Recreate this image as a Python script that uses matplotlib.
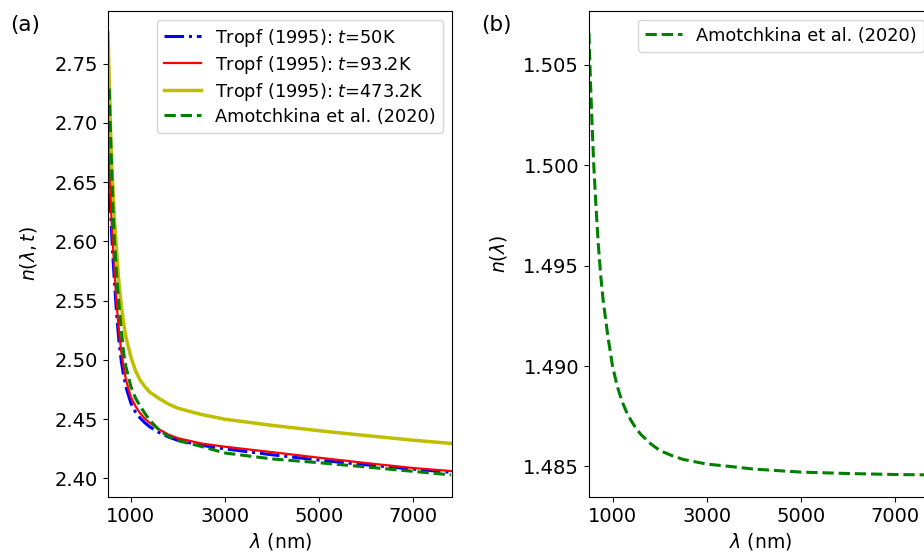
import numpy as np
from matplotlib import pyplot as plt

# Tropf (1995) model curves
lam_tropf = [518, 540, 560, 580, 600, 625, 650, 700, 750, 800, 850, 900, 1000, 1100,
             1200, 1300, 1400, 1600, 1800, 2000, 2500, 3000, 4000, 5000, 6000, 7000, 7822]
n_50K = [2.695, 2.662, 2.638, 2.620, 2.603, 2.585, 2.569, 2.539, 2.516, 2.499, 2.487,
         2.477, 2.464, 2.456, 2.451, 2.4470, 2.4437, 2.4388, 2.4350, 2.4322, 2.4280,
         2.4250, 2.4200, 2.4155, 2.4115, 2.4079, 2.4051]
n_93K = [2.705, 2.672, 2.648, 2.630, 2.613, 2.595, 2.579, 2.548, 2.524, 2.507, 2.494,
         2.483, 2.469, 2.461, 2.455, 2.4505, 2.4470, 2.4415, 2.4370, 2.4340, 2.4295,
         2.4268, 2.4222, 2.4175, 2.4130, 2.4088, 2.4062]
n_473K = [2.776, 2.742, 2.712, 2.682, 2.662, 2.643, 2.622, 2.592, 2.565, 2.546, 2.531,
          2.519, 2.503, 2.491, 2.483, 2.4775, 2.4730, 2.4675, 2.4628, 2.4593, 2.4540,
          2.4500, 2.4448, 2.4403, 2.4362, 2.4323, 2.4295]

# Amotchkina et al. (2020), panel (a)
lam_amo_a = [545, 560, 580, 600, 625, 650, 700, 750, 800, 850, 900, 1000, 1100, 1200,
             1300, 1400, 1600, 1800, 2000, 2500, 3000, 4000, 5000, 6000, 7000, 7800]
n_amo_a = [2.729, 2.705, 2.680, 2.655, 2.627, 2.603, 2.572, 2.547, 2.525, 2.506, 2.494,
           2.478, 2.468, 2.461, 2.4550, 2.4493, 2.4410, 2.4355, 2.4320, 2.4270, 2.4215,
           2.4165, 2.4133, 2.4097, 2.4060, 2.4030]

# Amotchkina et al. (2020), panel (b)
lam_amo_b = [500, 530, 560, 600, 650, 700, 750, 800, 900, 1000, 1100, 1200, 1300, 1400,
             1500, 1600, 1800, 2000, 2250, 2500, 3000, 3500, 4000, 5000, 6000, 7000, 7800]
n_amo_b = [1.5066, 1.5043, 1.5024, 1.5001, 1.4979, 1.4960, 1.4945, 1.4933, 1.4915,
           1.4900, 1.4890, 1.48825, 1.4877, 1.48726, 1.4869, 1.4866, 1.48615, 1.4858,
           1.48555, 1.48535, 1.48512, 1.4850, 1.48487, 1.48472, 1.48465, 1.4846, 1.48458]

xticks = [1000, 3000, 5000, 7000]

plt.rcParams['font.size'] = 13.5
plt.rcParams['xtick.labelsize'] = 14
plt.rcParams['ytick.labelsize'] = 14

fig = plt.figure(figsize=(9.24, 5.52), dpi=100)
ax1 = fig.add_axes([0.1169, 0.0996, 0.3723, 0.881])
ax2 = fig.add_axes([0.6374, 0.0996, 0.3723, 0.881])

ax1.plot(lam_tropf, n_50K, 'b-.', lw=2.2, label='Tropf (1995): $t$=50K')
ax1.plot(lam_tropf, n_93K, 'r-', lw=1.6, label='Tropf (1995): $t$=93.2K')
ax1.plot(lam_tropf, n_473K, 'y-', lw=2.5, label='Tropf (1995): $t$=473.2K')
ax1.plot(lam_amo_a, n_amo_a, 'g--', lw=2.2, label='Amotchkina et al. (2020)')
ax1.set_xlim(518, 7822)
ax1.set_xticks(xticks)
ax1.set_xlabel(r'$\lambda$ (nm)')
ax1.set_ylabel(r'$n(\lambda,t)$', labelpad=11)
ax1.legend(loc='upper right', fontsize=12.8, labelspacing=0.28, handlelength=2.1)

ax2.plot(lam_amo_b, n_amo_b, 'g--', lw=2.2, label='Amotchkina et al. (2020)')
ax2.set_xlim(500, 7800)
ax2.set_xticks(xticks)
ax2.set_xlabel(r'$\lambda$ (nm)')
ax2.set_ylabel(r'$n(\lambda)$', labelpad=10)
ax2.legend(loc='upper right', fontsize=12.8, handlelength=2.1)

fig.text(0.011, 0.972, '(a)', fontsize=15.5, va='top')
fig.text(0.521, 0.972, '(b)', fontsize=15.5, va='top')

fig.savefig('out.png', dpi=100)
